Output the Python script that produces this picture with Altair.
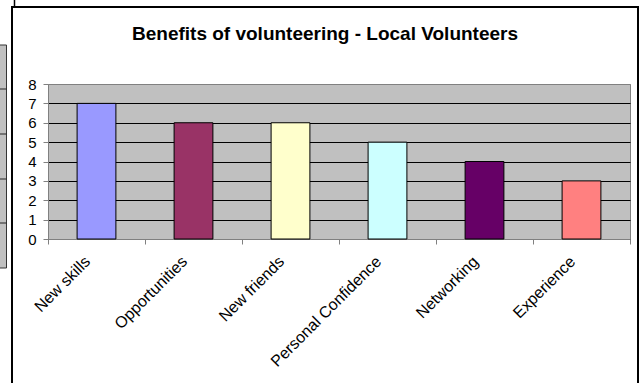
import altair as alt
import pandas as pd

categories = ["New skills", "Opportunities", "New friends", "Personal Confidence", "Networking", "Experience"]
values = [7, 6, 6, 5, 4, 3]
colors = ["#9999FF", "#993366", "#FFFFCC", "#CCFFFF", "#660066", "#FF8080"]
y_ticks = [0, 1, 2, 3, 4, 5, 6, 7, 8]
title_text = "Benefits of volunteering - Local Volunteers"

df = pd.DataFrame({"Benefit": categories, "Count": values, "Colour": colors})
one = pd.DataFrame({"k": [0]})

FONT = "Liberation Sans"
W, H = 582, 155
L, T = 48, 84

x = alt.X(
    "Benefit:N",
    sort=categories,
    scale=alt.Scale(paddingInner=0, paddingOuter=0),
    axis=alt.Axis(
        title=None, labelAngle=-45, labelFont=FONT, labelFontSize=16,
        labelColor="black", tickBand="extent", tickSize=5, tickColor="#808080",
        domainColor="#808080", labelPadding=9, labelOffset=-15, grid=False,
    ),
)
y = alt.Y(
    "Count:Q",
    scale=alt.Scale(domain=[0, 8], nice=False),
    axis=alt.Axis(
        title=None, values=y_ticks, grid=True,
        gridColor=alt.condition("datum.value == 8", alt.value("#808080"), alt.value("black")),
        gridWidth=1, labelFont=FONT, labelFontSize=15, labelColor="black",
        tickSize=5, tickColor="#808080", domainColor="#808080", labelPadding=7,
    ),
)

bars = alt.Chart(df).mark_bar(
    width=alt.RelativeBandSize(0.4), stroke="black", strokeWidth=1
).encode(x=x, y=y, color=alt.Color("Colour:N", scale=None, legend=None))

title = alt.Chart(one).mark_text(
    text=title_text, font=FONT, fontSize=19, fontWeight="bold",
    align="center", baseline="alphabetic", color="black",
).encode(x=alt.value(325 - L), y=alt.value(40 - T))

frame = alt.Chart(one).mark_rect(
    fill=None, stroke="black", strokeWidth=2, filled=False
).encode(x=alt.value(12 - L), x2=alt.value(638 - L), y=alt.value(7 - T), y2=alt.value(400 - T))

# background objects partly visible at the left edge
side_box = alt.Chart(one).mark_rect(
    fill="#C0C0C0", stroke="#333333", strokeWidth=1
).encode(x=alt.value(-L - 5), x2=alt.value(6.5 - L), y=alt.value(45 - T), y2=alt.value(268 - T))
side_rows = pd.DataFrame({"yy": [89, 134, 179, 223]})
side_lines = alt.Chart(side_rows).transform_calculate(
    py="datum.yy - 84"
).mark_rule(color="#222222", strokeWidth=1).encode(
    x=alt.value(-L), x2=alt.value(6.5 - L), y=alt.Y("py:Q", scale=None, axis=None)
)
top_stub = alt.Chart(one).mark_rule(color="black", strokeWidth=1.5).encode(
    x=alt.value(14.5 - L), y=alt.value(0 - T), y2=alt.value(7 - T)
)

chart = alt.layer(side_box, side_lines, top_stub, frame, bars, title).properties(
    width=W, height=H,
    autosize=alt.AutoSizeParams(type="none"),
    padding={"left": L, "top": T, "right": 643 - L - W, "bottom": 383 - T - H},
    background="white",
).configure_view(fill="#C0C0C0", stroke="#808080", strokeWidth=1)

chart.save("out.html", embed_options={"renderer": "svg", "actions": False})
